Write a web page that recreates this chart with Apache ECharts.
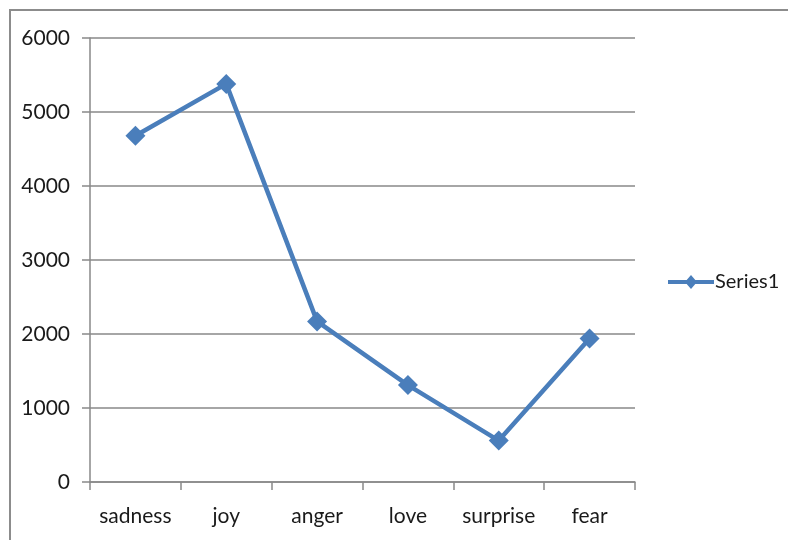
<!DOCTYPE html>
<html>
<head>
<meta charset="utf-8">
<script src="https://cdn.jsdelivr.net/npm/echarts@6/dist/echarts.min.js"></script>
<style>
  html, body { margin: 0; padding: 0; background: #fff; }
  #chart { width: 788px; height: 540px; }
</style>
</head>
<body>
<div id="chart"></div>
<script>
// Emotion categories and their counts
const categories = ['sadness', 'joy', 'anger', 'love', 'surprise', 'fear'];
const series1 = [4680, 5380, 2170, 1310, 560, 1940];
const yTicks = { min: 0, max: 6000, interval: 1000 };

const chart = echarts.init(document.getElementById('chart'));
const axisGray = '#898989';
const textColor = '#1a1a1a';
const lineBlue = '#4a7ebb';
const fontFamily = 'Lato, "Open Sans", sans-serif';

// Legend key: a thick line segment with a diamond in its middle
const legendIcon = 'path://M0 5 L18.7 5 L23 0 L27.3 5 L46 5 L46 9 L27.3 9 L23 14 L18.7 9 L0 9 Z';

chart.setOption({
  animation: false,
  backgroundColor: '#ffffff',
  graphic: [{
    type: 'rect',
    shape: { x: 10, y: 10, width: 800, height: 560 },
    style: { fill: 'none', stroke: '#8c8c8c', lineWidth: 2 },
    silent: true
  }],
  grid: { left: 90, top: 38, right: 153, bottom: 58, containLabel: false },
  legend: {
    data: [{ name: 'Series1', icon: legendIcon }],
    left: 663,
    top: 267,
    itemWidth: 46,
    itemHeight: 14,
    itemGap: 4,
    itemStyle: { color: lineBlue },
    textStyle: { fontSize: 20, color: textColor, fontFamily: fontFamily, padding: [0, 0, 0, -4] }
  },
  xAxis: {
    type: 'category',
    data: categories,
    boundaryGap: true,
    axisLine: { lineStyle: { color: axisGray, width: 1.5 } },
    axisTick: { show: true, length: 8, alignWithLabel: false, lineStyle: { color: axisGray, width: 1.5 } },
    axisLabel: { margin: 24, fontSize: 21, color: textColor, fontFamily: fontFamily, interval: 0 },
    splitLine: { show: false }
  },
  yAxis: {
    type: 'value',
    min: yTicks.min,
    max: yTicks.max,
    interval: yTicks.interval,
    axisLine: { show: true, lineStyle: { color: axisGray, width: 1.5 } },
    axisTick: { show: true, length: 8, lineStyle: { color: axisGray, width: 1.5 } },
    axisLabel: {
      margin: 20, fontSize: 21, color: textColor, fontFamily: fontFamily,
      formatter: (v) => String(v)
    },
    splitLine: { show: true, lineStyle: { color: axisGray, width: 1.5 } }
  },
  series: [{
    name: 'Series1',
    type: 'line',
    data: series1,
    symbol: 'diamond',
    symbolSize: 20,
    lineStyle: { color: lineBlue, width: 4.5 },
    itemStyle: { color: lineBlue }
  }]
});
</script>
</body>
</html>
